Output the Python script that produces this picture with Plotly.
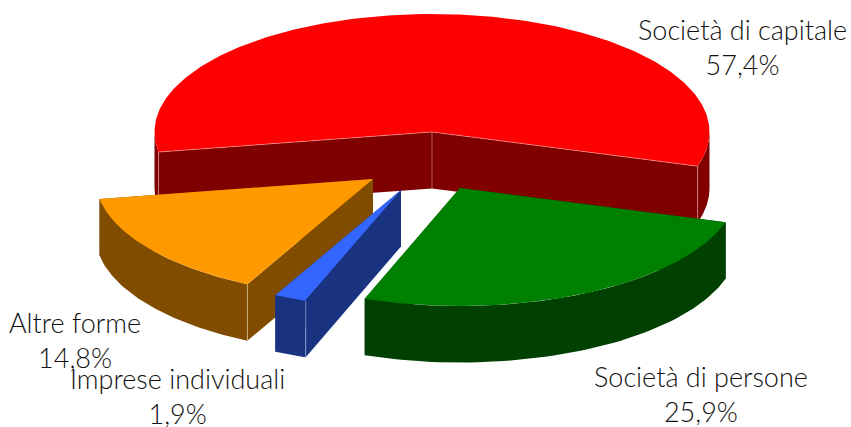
import numpy as np
import plotly.graph_objects as go

categories = ["Società di capitale", "Società di persone", "Imprese individuali", "Altre forme"]
values = [57.4, 25.9, 1.9, 14.8]
value_labels = ["57,4%", "25,9%", "1,9%", "14,8%"]

top_colors = ["#ff0000", "#008000", "#3366ff", "#ff9900"]
side_colors = ["#800000", "#004000", "#1a3380", "#804d00"]
edge_colors = ["rgba(255,215,215,0.55)", None, "rgba(215,225,255,0.6)", "rgba(255,235,200,0.6)"]
label_centers = [(742.5, 46.5), (701, 394), (177, 396), (75, 340)]
draw_order = [0, 3, 2, 1]

FIRST_ANGLE = 260.2
CX, CY, RX, RY, DEPTH = 432, 132, 277.5, 118, 56.5
offsets = [(0, 0), (28, 56), (-31, 58), (-59, 47)]


def rim(a, ox, oy):
    r = np.radians(a)
    return CX + ox + RX * np.sin(r), CY + oy - RY * np.cos(r)


spans = []
start = FIRST_ANGLE
for v in values:
    spans.append((start, start + v * 3.6))
    start += v * 3.6

fig = go.Figure()


def poly(xs, ys, color):
    fig.add_trace(go.Scatter(x=xs, y=ys, mode="lines", fill="toself", fillcolor=color,
                             line=dict(width=0, color=color), hoverinfo="skip", showlegend=False))


def edge(xs, ys, color):
    fig.add_trace(go.Scatter(x=xs, y=ys, mode="lines", line=dict(width=0.8, color=color),
                             hoverinfo="skip", showlegend=False))


for i in draw_order:
    a0, a1 = spans[i]
    ox, oy = offsets[i]
    ax, ay = CX + ox, CY + oy
    # radial cut faces
    for a in (a0, a1):
        x, y = rim(a, ox, oy)
        poly([ax, x, x, ax, ax], [ay, y, y + DEPTH, ay + DEPTH, ay], side_colors[i])
    # front part of the outer wall
    for k in range(-1, 3):
        lo, hi = max(a0, 90 + 360 * k), min(a1, 270 + 360 * k)
        if hi > lo:
            t = np.linspace(lo, hi, 60)
            x, y = rim(t, ox, oy)
            poly(np.r_[x, x[::-1]], np.r_[y, y[::-1] + DEPTH], side_colors[i])
    # top face
    t = np.linspace(a0, a1, 240)
    x, y = rim(t, ox, oy)
    poly(np.r_[ax, x, ax], np.r_[ay, y, ay], top_colors[i])
    # thin light edges on the visible corners of this slice
    if i == 0:
        x0, y0 = rim(a0, ox, oy)
        x1, y1 = rim(a1, ox, oy)
        edge([x0, ax, x1], [y0, ay, y1], edge_colors[i])
        for x, y in ((x0, y0), (ax, ay), (x1, y1)):
            edge([x, x], [y, y + DEPTH], edge_colors[i])
    elif edge_colors[i]:
        x, y = rim(a0, ox, oy)
        edge([x, x], [y, y + DEPTH], edge_colors[i])

for name, val, (lx, ly) in zip(categories, value_labels, label_centers):
    fig.add_annotation(x=lx, y=ly, text=f"{name}<br>{val}", showarrow=False,
                       xanchor="center", yanchor="middle",
                       font=dict(family="Lato", size=27, color="#111111", weight=300))

fig.update_layout(
    width=851, height=427, margin=dict(l=0, r=0, t=0, b=0),
    paper_bgcolor="white", plot_bgcolor="white", showlegend=False,
    xaxis=dict(range=[0, 851], visible=False, fixedrange=True),
    yaxis=dict(range=[427, 0], visible=False, fixedrange=True),
)
fig.write_html("out.html", config={"displayModeBar": False},
               post_script="document.body.style.margin='0';document.body.style.overflow='hidden';")
